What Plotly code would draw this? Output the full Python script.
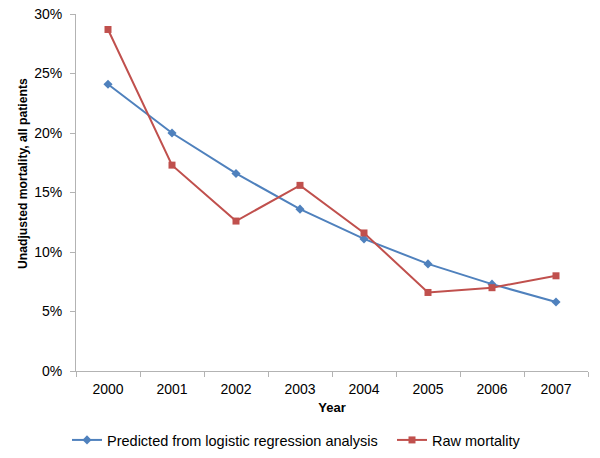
import plotly.graph_objects as go

years = ["2000", "2001", "2002", "2003", "2004", "2005", "2006", "2007"]
predicted = [24.1, 20.0, 16.6, 13.6, 11.1, 9.0, 7.3, 5.8]
raw = [28.7, 17.3, 12.6, 15.6, 11.6, 6.6, 7.0, 8.0]
y_ticks = [0, 5, 10, 15, 20, 25, 30]
y_tick_text = ["0%", "5%", "10%", "15%", "20%", "25%", "30%"]

font = "Liberation Sans, Arial, sans-serif"
axis_col = "#b3b3b3"

fig = go.Figure()
fig.add_trace(go.Scatter(
    x=years, y=predicted, mode="lines+markers",
    name="Predicted from logistic regression analysis",
    line=dict(color="#4F81BD", width=2),
    marker=dict(symbol="diamond", size=7, color="#4F81BD"),
    legend="legend",
))
fig.add_trace(go.Scatter(
    x=years, y=raw, mode="lines+markers",
    name="Raw mortality",
    line=dict(color="#C0504D", width=2),
    marker=dict(symbol="square", size=7, color="#C0504D"),
    legend="legend2",
))

leg_common = dict(orientation="h", xref="container", yref="container",
                  xanchor="left", y=18 / 458, yanchor="middle",
                  font=dict(size=14.5), bgcolor="rgba(0,0,0,0)")

fig.update_layout(
    width=600, height=458,
    margin=dict(l=76, r=12, t=14, b=87, autoexpand=False),
    paper_bgcolor="white", plot_bgcolor="white",
    font=dict(family=font, size=14, color="black"),
    showlegend=True,
    legend=dict(x=67 / 600, **leg_common),
    legend2=dict(x=392 / 600, **leg_common),
    xaxis=dict(
        type="category", range=[-0.5, 7.5], automargin=False,
        showline=True, linecolor=axis_col, linewidth=1,
        ticks="outside", tickson="boundaries", ticklen=5, tickcolor=axis_col,
        ticklabelstandoff=5,
        showgrid=False, zeroline=False,
        title=dict(text="<b>Year</b>", font=dict(size=13), standoff=7),
    ),
    yaxis=dict(
        range=[0, 30], tickmode="array", tickvals=y_ticks, ticktext=y_tick_text,
        automargin=False,
        showline=True, linecolor=axis_col, linewidth=1,
        ticks="outside", ticklen=5, tickcolor=axis_col,
        ticklabelstandoff=5,
        showgrid=False, zeroline=False,
    ),
    annotations=[dict(
        text="<b>Unadjusted mortality, all patients</b>",
        textangle=-90, xref="paper", yref="paper",
        x=(23 - 76) / 512, y=(371 - 174) / 357,
        xanchor="center", yanchor="middle", showarrow=False,
        font=dict(size=12.2, family=font, color="black"),
    )],
)

fig.write_html("out.html", config={"displayModeBar": False},
               post_script="document.body.style.margin='0px';")
